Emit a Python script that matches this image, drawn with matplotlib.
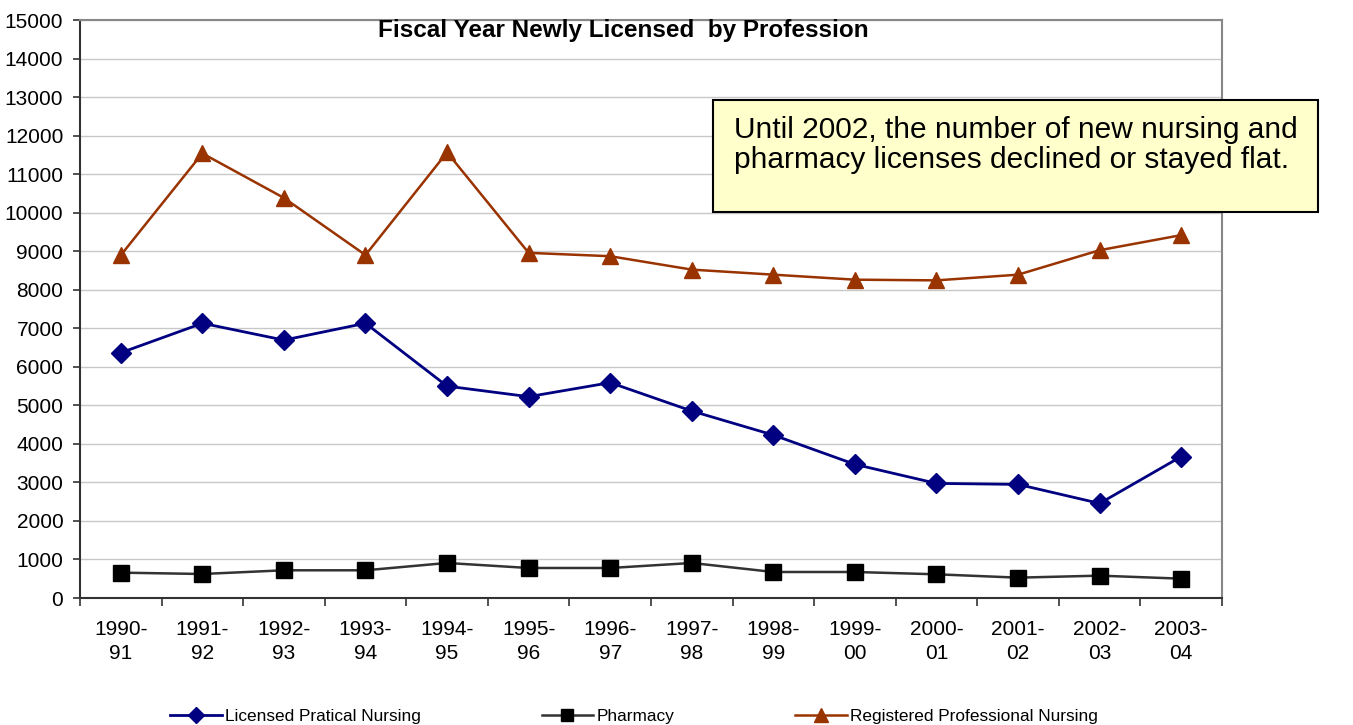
import matplotlib; matplotlib.use("Agg")
import matplotlib.pyplot as plt
import numpy as np

plt.rcParams.update({"font.family": ["Liberation Sans", "DejaVu Sans"]})

years = ["1990-\n91", "1991-\n92", "1992-\n93", "1993-\n94", "1994-\n95", "1995-\n96", "1996-\n97",
         "1997-\n98", "1998-\n99", "1999-\n00", "2000-\n01", "2001-\n02", "2002-\n03", "2003-\n04"]
lpn = [6364, 7130, 6693, 7130, 5498, 5225, 5589, 4853, 4229, 3468, 2974, 2948, 2455, 3671]
pharmacy = [658, 623, 719, 719, 909, 779, 779, 909, 675, 675, 615, 528, 580, 502]
rn = [8896, 11539, 10383, 8900, 11565, 8957, 8870, 8522, 8391, 8261, 8243, 8391, 9026, 9417]

W, H = 1353, 725
fig = plt.figure(figsize=(W/100, H/100), dpi=100)
ax = fig.add_axes([80/W, 1-598/H, (1222-80)/W, 578/H])
x = np.arange(len(years))

ax.plot(x, lpn, color="#000080", lw=2, marker="D", ms=10, label="Licensed Pratical Nursing", zorder=3)
ax.plot(x, pharmacy, color="#333333", lw=1.8, marker="s", ms=11, mfc="black", mec="black",
        label="Pharmacy", zorder=3)
ax.plot(x, rn, color="#993300", lw=1.8, marker="^", ms=12, label="Registered Professional Nursing", zorder=3)

ax.set_xlim(-0.5, len(years)-0.5)
ax.set_ylim(0, 15000)
ax.set_yticks(range(0, 15001, 1000))
ax.yaxis.grid(True, color="#c8c8c8", lw=1)
ax.set_axisbelow(True)
ax.tick_params(axis="y", labelsize=15, length=5, width=1.2, pad=7, color="#333333")
ax.set_xticks(x)
ax.set_xticklabels(years, fontsize=15, linespacing=1.35)
ax.set_xticks(np.arange(-0.5, len(years), 1), minor=True)
ax.tick_params(axis="x", which="major", length=0, pad=16)
ax.tick_params(axis="x", which="minor", length=6, width=1.2, color="#333333")
for s in ["left", "bottom"]:
    ax.spines[s].set_color("#333333"); ax.spines[s].set_linewidth(1.5)
for s in ["top", "right"]:
    ax.spines[s].set_color("#888888"); ax.spines[s].set_linewidth(1.5)

fig.text(623/W, 1-31/H, "Fiscal Year Newly Licensed  by Profession", ha="center", va="center",
         fontsize=17.5, fontweight="bold")

# callout box
fig.patches.append(plt.Rectangle((713/W, 1-212/H), (1318-713)/W, 112/H, transform=fig.transFigure,
                                 fc="#FFFFCC", ec="black", lw=1.5, zorder=5))
fig.text(734/W, 1-145/H, "Until 2002, the number of new nursing and\npharmacy licenses declined or stayed flat.",
         ha="left", va="center", fontsize=21.5, linespacing=1.12, zorder=6)

fig.legend(loc="center left", bbox_to_anchor=(170/W, 1-716/H), ncol=3, frameon=False, fontsize=12.4,
           handlelength=3.0, handletextpad=0.2, columnspacing=7.0, borderpad=0, borderaxespad=0,
           markerscale=0.8)

fig.savefig("out.png", dpi=100)
